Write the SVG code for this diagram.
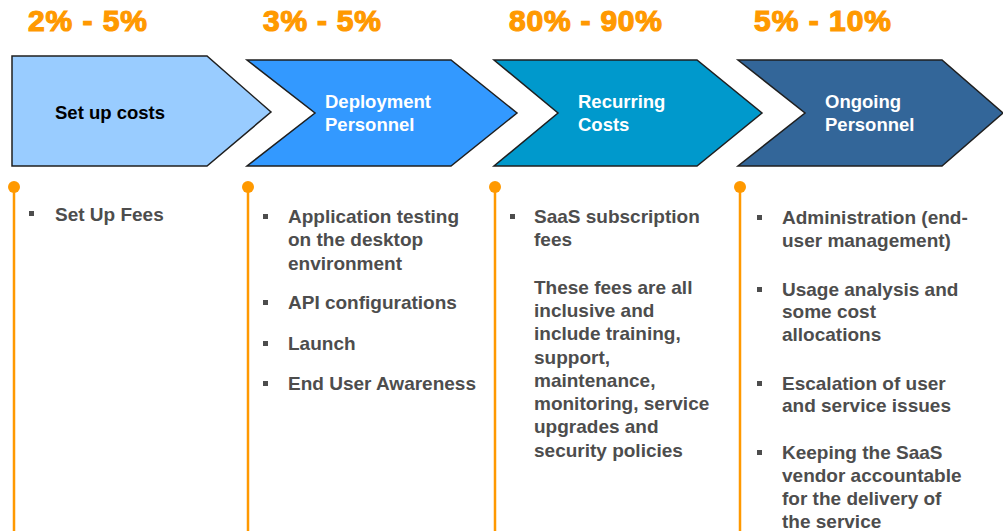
<svg xmlns="http://www.w3.org/2000/svg" width="1003" height="531" viewBox="0 0 1003 531">
<style>
.pct{font-family:"Liberation Sans",Arial,sans-serif;font-weight:bold;font-size:30px;fill:#ff9900;stroke:#ff9900;stroke-width:1.2}
.chev{stroke:#1f1f1f;stroke-width:1.5;stroke-linejoin:miter}
.head{font-family:"Liberation Sans",Arial,sans-serif;font-weight:bold;font-size:18.5px;fill:#ffffff}
.body{font-family:"Liberation Sans",Arial,sans-serif;font-weight:bold;font-size:19px;fill:#4d4d4d}
.line{stroke:#ff9900;stroke-width:2.5;fill:none}
.dot{fill:#ff9900}
.bul{fill:#4d4d4d}
</style>
<rect width="1003" height="531" fill="#ffffff"/>
<g id="connectors">
<line class="line" x1="14" y1="187" x2="14" y2="531"/>
<line class="line" x1="248" y1="187" x2="248" y2="531"/>
<line class="line" x1="495" y1="187" x2="495" y2="531"/>
<line class="line" x1="740" y1="187" x2="740" y2="531"/>
<circle class="dot" cx="14" cy="187" r="6"/>
<circle class="dot" cx="248" cy="187" r="6"/>
<circle class="dot" cx="495" cy="187" r="6"/>
<circle class="dot" cx="740" cy="187" r="6"/>
</g>
<g id="step1">
<text class="pct" x="28" y="31" textLength="119">2% - 5%</text>
<polygon class="chev" points="12,56 207,56 271,112 207,166 12,166" fill="#99ccff"/>
<text class="head" x="55" y="119" style="fill:#000000">Set up costs</text>
<rect class="bul" x="29" y="211" width="5" height="5"/>
<text class="body" x="55" y="221">Set Up Fees</text>
</g>
<g id="step2">
<text class="pct" x="263" y="31" textLength="118">3% - 5%</text>
<polygon class="chev" points="247,60 451,60 517,113 451,166 247,166 315,113" fill="#3399ff"/>
<text class="head" x="325" y="108">Deployment</text>
<text class="head" x="325" y="131">Personnel</text>
<rect class="bul" x="263" y="214" width="5" height="5"/>
<text class="body" x="288" y="223">Application testing</text>
<text class="body" x="288" y="246">on the desktop</text>
<text class="body" x="288" y="270">environment</text>
<rect class="bul" x="263" y="300" width="5" height="5"/>
<text class="body" x="288" y="309">API configurations</text>
<rect class="bul" x="263" y="341" width="5" height="5"/>
<text class="body" x="288" y="350">Launch</text>
<rect class="bul" x="263" y="381" width="5" height="5"/>
<text class="body" x="288" y="390">End User Awareness</text>
</g>
<g id="step3">
<text class="pct" x="509" y="31" textLength="153">80% - 90%</text>
<polygon class="chev" points="494,60 697,60 762,113 697,166 494,166 558,113" fill="#0099cc"/>
<text class="head" x="578" y="108">Recurring</text>
<text class="head" x="578" y="131">Costs</text>
<rect class="bul" x="510" y="214" width="5" height="5"/>
<text class="body" x="534" y="223">SaaS subscription</text>
<text class="body" x="534" y="246">fees</text>
<text class="body" x="534" y="294">These fees are all</text>
<text class="body" x="534" y="317">inclusive and</text>
<text class="body" x="534" y="340">include training,</text>
<text class="body" x="534" y="364">support,</text>
<text class="body" x="534" y="387">maintenance,</text>
<text class="body" x="534" y="410">monitoring, service</text>
<text class="body" x="534" y="433">upgrades and</text>
<text class="body" x="534" y="457">security policies</text>
</g>
<g id="step4">
<text class="pct" x="754" y="31" textLength="137">5% - 10%</text>
<polygon class="chev" points="738,60 942,60 1003,113 942,166 738,166 805,113" fill="#336699"/>
<text class="head" x="825" y="108">Ongoing</text>
<text class="head" x="825" y="131">Personnel</text>
<rect class="bul" x="757" y="215" width="5" height="5"/>
<text class="body" x="782" y="224">Administration (end-</text>
<text class="body" x="782" y="247">user management)</text>
<rect class="bul" x="757" y="287" width="5" height="5"/>
<text class="body" x="782" y="296">Usage analysis and</text>
<text class="body" x="782" y="318">some cost</text>
<text class="body" x="782" y="341">allocations</text>
<rect class="bul" x="757" y="381" width="5" height="5"/>
<text class="body" x="782" y="390">Escalation of user</text>
<text class="body" x="782" y="412">and service issues</text>
<rect class="bul" x="757" y="450" width="5" height="5"/>
<text class="body" x="782" y="459">Keeping the SaaS</text>
<text class="body" x="782" y="482">vendor accountable</text>
<text class="body" x="782" y="505">for the delivery of</text>
<text class="body" x="782" y="528">the service</text>
</g>
</svg>
